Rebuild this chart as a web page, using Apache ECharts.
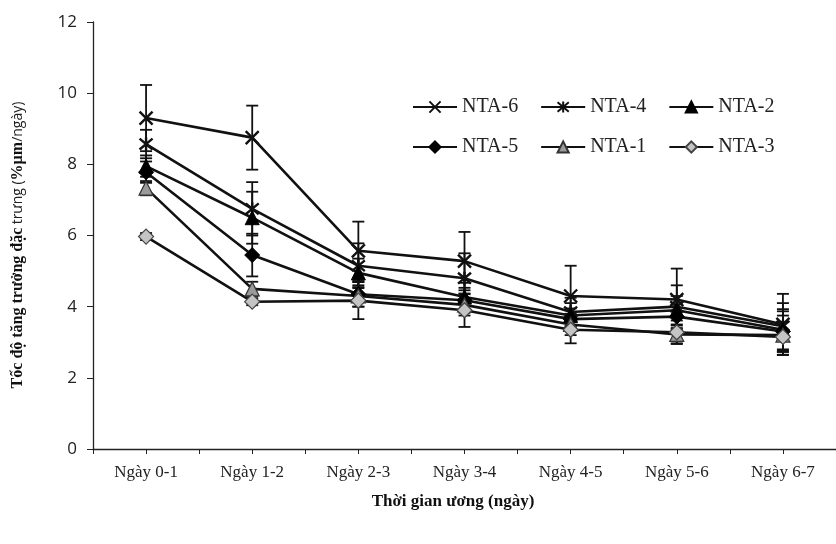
<!DOCTYPE html>
<html><head><meta charset="utf-8">
<script src="https://cdn.jsdelivr.net/npm/echarts@6/dist/echarts.min.js"></script>
<style>html,body{margin:0;padding:0;background:#fff}#c{width:836px;height:544px}</style>
</head><body><div id="c"></div>
<script>
var categories = ['Ngày 0-1','Ngày 1-2','Ngày 2-3','Ngày 3-4','Ngày 4-5','Ngày 5-6','Ngày 6-7'];
var yTicks = [0, 2, 4, 6, 8, 10, 12];
var nta6 = [9.3, 8.75, 5.57, 5.28, 4.3, 4.2, 3.5];
var nta4 = [8.57, 6.75, 5.15, 4.8, 3.85, 4.0, 3.45];
var nta2 = [7.95, 6.5, 4.95, 4.27, 3.75, 3.9, 3.35];
var nta5 = [7.78, 5.45, 4.35, 4.18, 3.65, 3.72, 3.3];
var nta1 = [7.33, 4.5, 4.3, 4.05, 3.5, 3.22, 3.2];
var nta3 = [5.97, 4.14, 4.17, 3.9, 3.35, 3.28, 3.15];
var err6 = [0.93, 0.9, 0.82, 0.82, 0.85, 0.87, 0.86];
var err4 = [0.4, 0.75, 0.63, 0.7, 0.4, 0.6, 0.65];
var err2 = [0.3, 0.73, 0.4, 0.4, 0.35, 0.4, 0.58];
var err5 = [0.3, 0.6, 0.35, 0.35, 0.3, 0.35, 0.57];
var err1 = [0.2, 0.2, 0.3, 0.3, 0.3, 0.25, 0.55];
var err3 = [0.1, 0.1, 0.52, 0.47, 0.38, 0.33, 0.42];

var seriesDefs = [
  {name:'NTA-6', v:nta6, e:err6, symbol:'path://M0,0L10,10M10,0L0,10', size:13, fill:'rgba(0,0,0,0)', border:'#111', bw:2.4},
  {name:'NTA-4', v:nta4, e:err4, symbol:'path://M0,1L10,11M10,1L0,11M5,0L5,12', size:13, fill:'rgba(0,0,0,0)', border:'#111', bw:2.4},
  {name:'NTA-2', v:nta2, e:err2, symbol:'triangle', size:14, fill:'#000', border:'#000', bw:1},
  {name:'NTA-5', v:nta5, e:err5, symbol:'diamond', size:15, fill:'#000', border:'#000', bw:1},
  {name:'NTA-1', v:nta1, e:err1, symbol:'triangle', size:14, fill:'#9a9a9a', border:'#333', bw:1.2},
  {name:'NTA-3', v:nta3, e:err3, symbol:'diamond', size:15, fill:'#c4c4c4', border:'#444', bw:1.2}
];

var series = [];
seriesDefs.forEach(function(d){
  var ebData = d.v.map(function(v,i){ return [i, v - d.e[i], v + d.e[i]]; });
  series.push({
    type:'custom', name:d.name + '-err', z:2, silent:true,
    data: ebData,
    renderItem: function(params, api){
      var x = api.value(0);
      var lo = api.coord([x, api.value(1)]);
      var hi = api.coord([x, api.value(2)]);
      var hw = 6;
      var st = {stroke:'#111', lineWidth:1.8};
      return {type:'group', children:[
        {type:'line', shape:{x1:lo[0],y1:lo[1],x2:hi[0],y2:hi[1]}, style:st},
        {type:'line', shape:{x1:lo[0]-hw,y1:lo[1],x2:lo[0]+hw,y2:lo[1]}, style:st},
        {type:'line', shape:{x1:hi[0]-hw,y1:hi[1],x2:hi[0]+hw,y2:hi[1]}, style:st}
      ]};
    }
  });
});
seriesDefs.forEach(function(d){
  series.push({
    type:'line', name:d.name, data:d.v, z:3,
    symbol:d.symbol, symbolSize:d.size, showAllSymbol:true,
    lineStyle:{color:'#111', width:2.6},
    itemStyle:{color:d.fill, borderColor:d.border, borderWidth:d.bw},
    emphasis:{disabled:true}, animation:false
  });
});

var chart = echarts.init(document.getElementById('c'), null, {renderer:'canvas'});
var legendCommon = {
  orient:'horizontal', left:407, itemWidth:44, itemHeight:14, itemGap:22,
  textStyle:{fontFamily:'Liberation Serif', fontSize:20, color:'#222'},
  selectedMode:false
};
chart.setOption({
  animation:false,
  backgroundColor:'#fff',
  grid:{left:93, top:22, width:754, height:427, containLabel:false},
  legend:[
    Object.assign({}, legendCommon, {top:92, data:['NTA-6','NTA-4','NTA-2']}),
    Object.assign({}, legendCommon, {top:132, data:['NTA-5','NTA-1','NTA-3']})
  ],
  xAxis:[{
    type:'category', data:categories, boundaryGap:true,
    axisLine:{lineStyle:{color:'#222', width:1.3}},
    axisTick:{show:true, interval:0, alignWithLabel:false, length:5, lineStyle:{color:'#222'}},
    axisLabel:{interval:0, fontFamily:'Liberation Serif', fontSize:17, color:'#222', margin:15},
    splitLine:{show:false}
  },{
    type:'category', data:categories, boundaryGap:true, position:'bottom', offset:0,
    axisLine:{show:false},
    axisTick:{show:true, interval:0, alignWithLabel:true, length:5, lineStyle:{color:'#222'}},
    axisLabel:{show:false}, splitLine:{show:false}
  }],
  yAxis:{
    type:'value', min:yTicks[0], max:yTicks[yTicks.length-1], interval:2,
    axisLine:{show:true, lineStyle:{color:'#222', width:1.3}},
    axisTick:{show:true, length:6, lineStyle:{color:'#222'}},
    axisLabel:{fontFamily:'Open Sans', fontSize:17, color:'#222', margin:16},
    splitLine:{show:false}
  },
  graphic:[
    {type:'text', x:453, y:502, style:{text:'Thời gian ương (ngày)', font:'bold 17px "Liberation Serif"', fill:'#111', align:'center', verticalAlign:'middle'}, z:10},
    {type:'text', x:18, y:245, rotation:Math.PI/2, style:{
      text:'{b|Tốc độ tăng trưởng đặc} {n|trưng (}{b|%µm}{n|/ngày)}',
      align:'center', verticalAlign:'middle',
      rich:{
        b:{fontFamily:'Liberation Serif', fontWeight:'bold', fontSize:16, fill:'#111'},
        n:{fontFamily:'Open Sans', fontSize:14, fill:'#222'}
      }
    }}
  ],
  series:series
});
</script></body></html>
